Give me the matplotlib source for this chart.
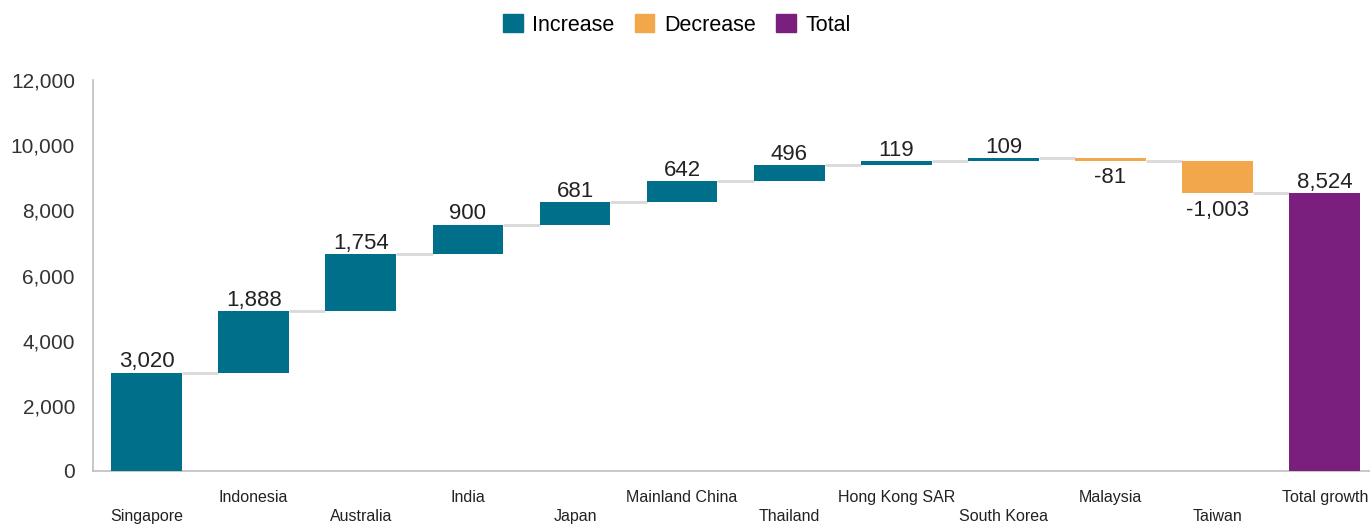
import numpy as np
import matplotlib.pyplot as plt
from matplotlib.patches import Patch

plt.rcParams['font.family'] = ['Liberation Sans', 'DejaVu Sans']

categories = ['Singapore', 'Indonesia', 'Australia', 'India', 'Japan', 'Mainland China',
              'Thailand', 'Hong Kong SAR', 'South Korea', 'Malaysia', 'Taiwan', 'Total growth']
changes = [3020, 1888, 1754, 900, 681, 642, 496, 119, 109, -81, -1003]
total = 8524
labels = ['3,020', '1,888', '1,754', '900', '681', '642', '496', '119', '109', '-81', '-1,003', '8,524']

c_inc = '#00708A'
c_dec = '#F2A74B'
c_tot = '#7B1F7E'
c_conn = '#D9D9D9'

fig = plt.figure(figsize=(13.7, 5.25), dpi=100)
ax = fig.add_axes([93 / 1370, 1 - 471 / 525, 1280 / 1370, (471 - 80) / 525])

width = 0.66
x = np.arange(len(categories))
cum = np.concatenate([[0], np.cumsum(changes)])
bottoms = []
heights = []
colors = []
for i, v in enumerate(changes):
    if v >= 0:
        bottoms.append(cum[i]); heights.append(v); colors.append(c_inc)
    else:
        bottoms.append(cum[i + 1]); heights.append(-v); colors.append(c_dec)
bottoms.append(0); heights.append(total); colors.append(c_tot)

ax.bar(x, heights, bottom=bottoms, width=width, color=colors, zorder=3)

# connectors between bars
levels = list(cum[1:])
for i in range(len(categories) - 1):
    lvl = levels[i]
    ax.plot([x[i] + width / 2, x[i + 1] - width / 2], [lvl, lvl], color=c_conn, lw=2,
            zorder=2, solid_capstyle='butt')

# value labels
for i, lab in enumerate(labels):
    if i < len(changes) and changes[i] < 0:
        ax.text(x[i], bottoms[i] - 200, lab, ha='center', va='top', fontsize=16, color='#222222')
    else:
        ax.text(x[i], bottoms[i] + heights[i] + 10, lab, ha='center', va='bottom',
                fontsize=16, color='#222222')

ax.set_xlim(-0.5, 11.45)
ax.set_ylim(0, 12000)
ax.set_yticks(np.arange(0, 12001, 2000))
ax.set_yticklabels([f'{v:,}' for v in range(0, 12001, 2000)], fontsize=15, color='#333333')
ax.tick_params(axis='y', length=0, pad=13)
ax.set_xticks([])

for i, cat in enumerate(categories):
    yoff = -0.068 if i % 2 == 1 else -0.117
    ax.text(x[i], yoff, cat, transform=ax.get_xaxis_transform(), ha='center', va='center',
            fontsize=11.5, color='#222222')

for s in ['top', 'right']:
    ax.spines[s].set_visible(False)
ax.spines['left'].set_color('#BFBFBF')
ax.spines['bottom'].set_color('#BFBFBF')
ax.spines['left'].set_linewidth(1.2)
ax.spines['bottom'].set_linewidth(1.2)

handles = [Patch(color=c_inc, label='Increase'), Patch(color=c_dec, label='Decrease'),
           Patch(color=c_tot, label='Total')]
fig.legend(handles=handles, loc='center', bbox_to_anchor=(677 / 1370, 1 - 25 / 525), ncol=3,
           frameon=False, fontsize=15.5, handlelength=0.9, handleheight=0.9,
           handletextpad=0.45, columnspacing=0.95)

fig.savefig('out.png', dpi=100)
